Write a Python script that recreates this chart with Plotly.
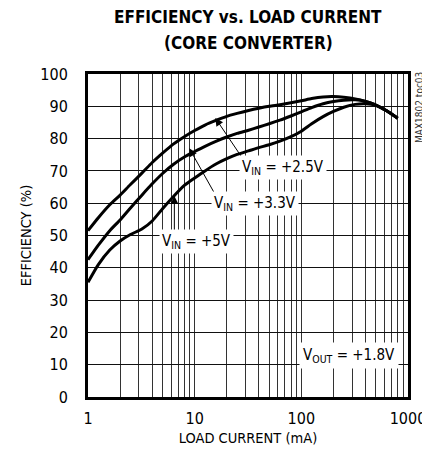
import numpy as np
import plotly.graph_objects as go

# ---- data ----
load_ma = [1, 1.25, 1.6, 2, 2.5, 3.2, 4, 5, 6.3, 8, 10, 12.5, 16, 20, 25, 32, 40, 50, 63, 80,
           100, 125, 160, 200, 250, 320, 400, 500, 630, 800]
eff_vin_2v5 = [51.5, 55.5, 59.5, 62.5, 65.8, 69.3, 72.6, 75.5, 78.3, 80.6, 82.5, 84.2, 85.7, 86.9,
               87.8, 88.7, 89.4, 90.0, 90.5, 91.1, 91.7, 92.4, 92.9, 93.0, 92.8, 92.3, 91.5, 90.4,
               88.6, 86.3]
eff_vin_3v3 = [42.5, 47, 51.5, 54.8, 58.5, 62.5, 66, 69.2, 72, 74.3, 76, 77.6, 79.2, 80.5, 81.6,
               82.6, 83.6, 84.6, 85.7, 87.0, 88.3, 89.6, 90.8, 91.5, 91.9, 92.0, 91.5, 90.4, 88.6,
               86.3]
eff_vin_5v = [35.5, 41, 45.5, 48.3, 50.3, 52, 54.5, 58.3, 62, 65.5, 67.8, 70, 72.2, 73.8, 75.1,
              76.2, 77.2, 78.1, 79.2, 80.6, 82.3, 84.6, 86.8, 88.4, 89.7, 90.6, 90.8, 90.3, 88.6,
              86.3]

x_tick_vals = [m * 10 ** d for d in range(3) for m in range(1, 10)] + [1000]
x_tick_text = [str(v) if v in (1, 10, 100, 1000) else "" for v in x_tick_vals]
y_tick_vals = list(range(0, 101, 10))

# label texts, positions (load mA, efficiency %) and arrow tails/tips
label_texts = ["V<sub>IN</sub> = +2.5V", "V<sub>IN</sub> = +3.3V", "V<sub>IN</sub> = +5V"]
label_pos = [(68, 71.2), (37, 60.0), (10.3, 48.0)]
arrow_tail = [(31, 71.8), (16.0, 62.0), (6.45, 50.5)]
arrow_tip = [(15.6, 86.4), (8.9, 77.0), (6.45, 62.2)]
vout_text = "V<sub>OUT</sub> = +1.8V"
vout_pos = (280, 13)

FONT = "DejaVu Sans Condensed, Liberation Sans Narrow, Arial Narrow, sans-serif"

fig = go.Figure()
for ys in [eff_vin_2v5, eff_vin_3v3, eff_vin_5v]:
    fig.add_trace(go.Scatter(x=load_ma, y=ys, mode="lines",
                             line=dict(color="black", width=3, shape="spline", smoothing=0.6),
                             showlegend=False, hoverinfo="skip"))

annotations = []
for tail, tip in zip(arrow_tail, arrow_tip):
    annotations.append(dict(x=np.log10(tip[0]), y=tip[1], ax=np.log10(tail[0]), ay=tail[1],
                            xref="x", yref="y", axref="x", ayref="y", text="",
                            showarrow=True, arrowhead=2, arrowsize=1.6, arrowwidth=1,
                            arrowcolor="black"))
for txt, (lx, ly) in zip(label_texts, label_pos):
    annotations.append(dict(x=np.log10(lx), y=ly, xref="x", yref="y", text=txt,
                            showarrow=False, bgcolor="white", borderpad=2,
                            font=dict(family=FONT, size=15, color="black")))
annotations.append(dict(x=np.log10(vout_pos[0]), y=vout_pos[1], xref="x", yref="y",
                        text=vout_text, showarrow=False, bgcolor="white", borderpad=3,
                        font=dict(family=FONT, size=15, color="black")))
annotations.append(dict(x=0.5, y=1.175, xref="paper", yref="paper", yanchor="middle",
                        text="<b>EFFICIENCY vs. LOAD CURRENT</b>", showarrow=False,
                        font=dict(family=FONT, size=17, color="black")))
annotations.append(dict(x=0.5, y=1.097, xref="paper", yref="paper", yanchor="middle",
                        text="<b>(CORE CONVERTER)</b>", showarrow=False,
                        font=dict(family=FONT, size=17, color="black")))
annotations.append(dict(x=1.012, y=1.012, xref="paper", yref="paper", text="MAX1802 toc03",
                        textangle=-90, showarrow=False, xanchor="left", yanchor="top",
                        font=dict(family=FONT, size=10, color="#333")))

fig.update_layout(
    width=430, height=451,
    margin=dict(l=80, r=23, t=66, b=62),
    paper_bgcolor="white", plot_bgcolor="white",
    annotations=annotations,
    font=dict(family=FONT, size=15, color="black"),
    xaxis=dict(type="log", range=[0, 3], tickmode="array", tickvals=x_tick_vals,
               ticktext=x_tick_text, showgrid=True, gridcolor="#333", gridwidth=1,
               showline=True, linecolor="black", linewidth=3, mirror=True,
               ticks="", zeroline=False, ticklabelstandoff=5,
               tickfont=dict(family=FONT, size=16),
               title=dict(text="LOAD CURRENT (mA)", font=dict(family=FONT, size=14.5), standoff=6)),
    yaxis=dict(range=[0, 100], tickmode="array", tickvals=y_tick_vals,
               showgrid=True, gridcolor="#111", gridwidth=1,
               showline=True, linecolor="black", linewidth=3, mirror=True,
               ticks="", zeroline=False, ticklabelstandoff=14,
               tickfont=dict(family=FONT, size=16),
               title=dict(text="EFFICIENCY (%)", font=dict(family=FONT, size=14.5), standoff=6)),
)

fig.write_html("out.html")
